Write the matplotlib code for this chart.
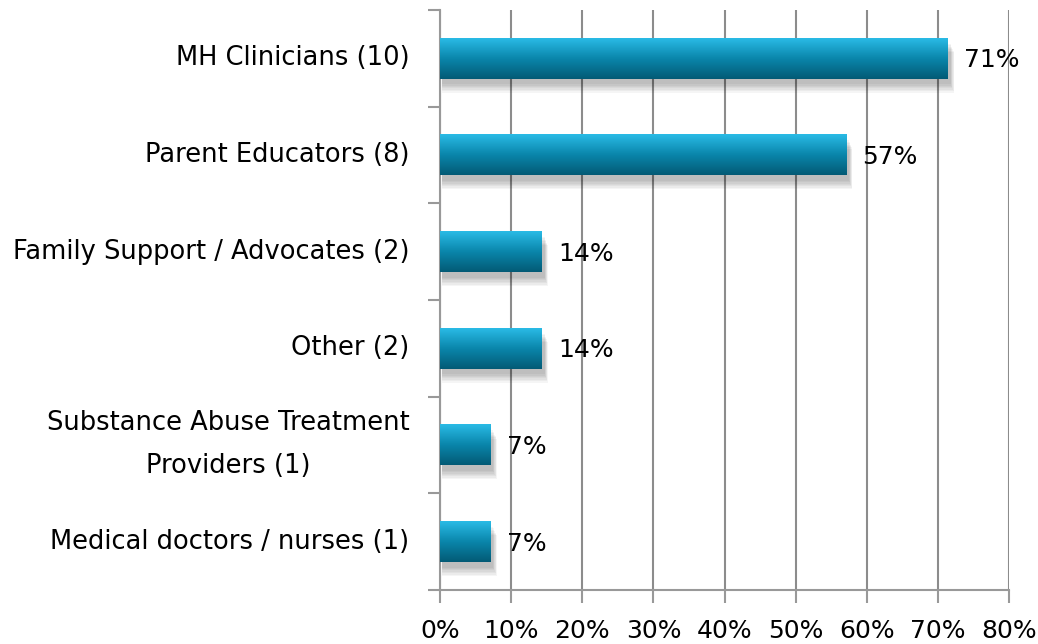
import numpy as np
import matplotlib.pyplot as plt
from matplotlib.colors import LinearSegmentedColormap
from matplotlib.patches import Rectangle

categories = ['MH Clinicians (10)', 'Parent Educators (8)', 'Family Support / Advocates (2)',
              'Other (2)', 'Substance Abuse Treatment\nProviders (1)', 'Medical doctors / nurses (1)']
values = [71.4, 57.1, 14.3, 14.3, 7.1, 7.1]
labels = ['71%', '57%', '14%', '14%', '7%', '7%']
xticks = [0, 10, 20, 30, 40, 50, 60, 70, 80]

plt.rcParams['font.family'] = ['DejaVu Sans']

fig = plt.figure(figsize=(10.38, 6.44), dpi=100)
ax = fig.add_axes([0.4239, 0.0839, 0.5482, 0.9006])

n = len(categories)
y = np.arange(n)[::-1]  # top category at top
h = 0.42
cmap = LinearSegmentedColormap.from_list('bar', ['#035a75', '#0a86ab', '#2abbe6'])
grad = np.linspace(0, 1, 256).reshape(-1, 1)

for yi, v, lab in zip(y, values, labels):
    # soft shadow
    for k in range(7):
        ax.add_patch(Rectangle((0.3, yi - h / 2 - 0.06 - k * 0.014), v + 0.1 + k * 0.08, h,
                               color='black', alpha=0.04, lw=0, zorder=2))
    ax.imshow(grad, cmap=cmap, aspect='auto', origin='lower',
              extent=(0, v, yi - h / 2, yi + h / 2), zorder=3)
    ax.text(v + 2.3, yi - 0.02, lab, va='center', ha='left', fontsize=18, zorder=4)

ax.set_xlim(0, 80)
ax.set_ylim(-0.5, n - 0.5)
ax.set_xticks(xticks)
ax.set_xticklabels([f'{t}%' for t in xticks], fontsize=18)
ax.set_yticks(y)
ax.set_yticklabels(categories, fontsize=18.5, linespacing=1.85, multialignment='center')
for t in ax.get_yticklabels():
    t.set_va('center')
ax.set_yticks(np.arange(n + 1) - 0.5, minor=True)
ax.tick_params(axis='y', which='major', length=0, pad=22)
ax.tick_params(axis='y', which='minor', length=9, width=1.5, color='#999999')
ax.tick_params(axis='x', length=9, width=1.5, color='#999999', pad=12)
ax.grid(axis='x', color='#8c8c8c', lw=1.5, zorder=1)
ax.set_axisbelow(True)
for s in ['top', 'right']:
    ax.spines[s].set_visible(False)
for s in ['left', 'bottom']:
    ax.spines[s].set_color('#999999')
    ax.spines[s].set_linewidth(1.5)

fig.savefig('out.png', dpi=100)
